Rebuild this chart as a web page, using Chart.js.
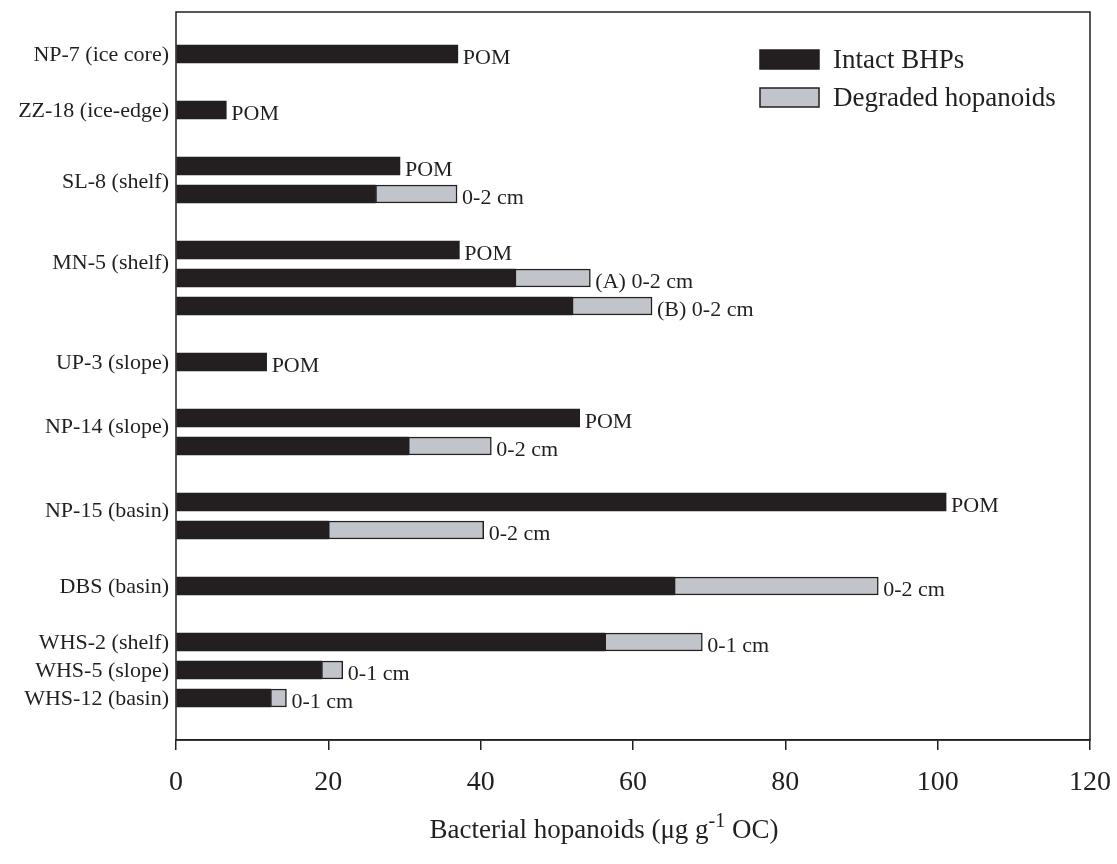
<!DOCTYPE html>
<html>
<head>
<meta charset="utf-8">
<script src="https://cdn.jsdelivr.net/npm/chart.js@4/dist/chart.umd.min.js"></script>
<style>
html,body{margin:0;padding:0;background:#fff;}
#wrap{width:1117px;height:864px;position:relative;}
</style>
</head>
<body>
<div id="wrap"><canvas id="c" width="1117" height="864"></canvas></div>
<script>
// Row slots (top to bottom); empty strings are spacer rows
const rowNotes = ['', 'POM', '', 'POM', '', 'POM', '0-2 cm', '', 'POM', '(A) 0-2 cm', '(B) 0-2 cm', '',
  'POM', '', 'POM', '0-2 cm', '', 'POM', '0-2 cm', '', '0-2 cm', '', '0-1 cm', '0-1 cm', '0-1 cm', ''];
const intactBHPs = [null, 37.0, null, 6.6, null, 29.4, 26.2, null, 37.2, 44.5, 52.0, null,
  11.9, null, 53.0, 30.5, null, 101.1, 20.0, null, 65.4, null, 56.3, 19.1, 12.4, null];
const degradedHopanoids = [null, null, null, null, null, null, 10.7, null, null, 9.9, 10.5, null,
  null, null, null, 10.9, null, null, 20.4, null, 26.8, null, 12.8, 2.8, 2.1, null];
const stationLabels = ['NP-7 (ice core)', 'ZZ-18 (ice-edge)', 'SL-8 (shelf)', 'MN-5 (shelf)', 'UP-3 (slope)',
  'NP-14 (slope)', 'NP-15 (basin)', 'DBS (basin)', 'WHS-2 (shelf)', 'WHS-5 (slope)', 'WHS-12 (basin)'];
const stationLabelRows = [1, 3, 5.55, 8.45, 12, 14.3, 17.3, 20, 22, 23, 24];
const xTicks = [0, 20, 40, 60, 80, 100, 120];
const seriesNames = ['Intact BHPs', 'Degraded hopanoids'];

const FONT = '"Liberation Serif", "Times New Roman", serif';
const INK = '#231f20';
const GREY = '#c1c4ca';
const slotIds = rowNotes.map((n, i) => 'r' + i);

const drawPlugin = {
  id: 'custom',
  afterDatasetsDraw(chart) {
    const ctx = chart.ctx, ca = chart.chartArea;
    const xs = chart.scales.x, ys = chart.scales.y;
    ctx.save();
    // frame
    ctx.strokeStyle = INK; ctx.lineWidth = 1.5;
    ctx.strokeRect(ca.left, ca.top, ca.right - ca.left, ca.bottom - ca.top);
    // station labels
    ctx.fillStyle = INK;
    ctx.font = '22px ' + FONT;
    ctx.textAlign = 'right'; ctx.textBaseline = 'middle';
    stationLabels.forEach((lab, i) => {
      ctx.fillText(lab, ca.left - 7, ys.getPixelForValue(stationLabelRows[i]) + 1);
    });
    // bar notes
    ctx.textAlign = 'left';
    rowNotes.forEach((note, i) => {
      if (!note) return;
      const tot = (intactBHPs[i] || 0) + (degradedHopanoids[i] || 0);
      const x = xs.getPixelForValue(tot) + 5;
      const y = ys.getPixelForValue(i) + 4;
      ctx.fillText(note, x, y);
    });
    // legend
    const lx = 760, lw = 59, lh = 19;
    const items = [[INK, 50], [GREY, 88]];
    ctx.font = '27px ' + FONT;
    items.forEach((it, k) => {
      ctx.fillStyle = it[0];
      ctx.fillRect(lx, it[1], lw, lh);
      ctx.strokeStyle = INK; ctx.lineWidth = 1.5;
      ctx.strokeRect(lx, it[1], lw, lh);
      ctx.fillStyle = INK;
      ctx.fillText(seriesNames[k], 833, it[1] + lh / 2 + 1);
    });
    // x title with superscript
    const p1 = 'Bacterial hopanoids (\u03bcg g', sup = '-1', p2 = ' OC)';
    ctx.font = '27px ' + FONT;
    const w1 = ctx.measureText(p1).width, w3 = ctx.measureText(p2).width;
    ctx.font = '20px ' + FONT;
    const w2 = ctx.measureText(sup).width;
    const total = w1 + w2 + w3;
    let x0 = 604 - total / 2;
    const yb = 838;
    ctx.textBaseline = 'alphabetic';
    ctx.font = '27px ' + FONT; ctx.fillText(p1, x0, yb);
    ctx.font = '20px ' + FONT; ctx.fillText(sup, x0 + w1, yb - 11);
    ctx.font = '27px ' + FONT; ctx.fillText(p2, x0 + w1 + w2, yb);
    ctx.restore();
  }
};

new Chart(document.getElementById('c'), {
  type: 'bar',
  data: {
    labels: slotIds,
    datasets: [
      { label: seriesNames[0], data: intactBHPs, backgroundColor: INK, borderColor: INK, borderWidth: 0, barThickness: 18, borderSkipped: false },
      { label: seriesNames[1], data: degradedHopanoids, backgroundColor: GREY, borderColor: INK, borderWidth: 1.5, barThickness: 18, borderSkipped: false }
    ]
  },
  options: {
    indexAxis: 'y',
    responsive: false,
    animation: false,
    devicePixelRatio: 1,
    layout: { padding: { top: 12, right: 27, left: 0, bottom: 0 } },
    plugins: { legend: { display: false }, tooltip: { enabled: false } },
    scales: {
      x: {
        stacked: true, type: 'linear', min: 0, max: 120,
        afterBuildTicks: s => { s.ticks = xTicks.map(v => ({ value: v })); },
        afterFit: s => { s.height = 124; s.paddingLeft = 0; s.paddingRight = 0; },
        grid: { drawOnChartArea: false, drawTicks: true, tickLength: 10, color: INK, lineWidth: 1.5 },
        border: { display: true, color: INK, width: 1.5 },
        ticks: { color: INK, font: { family: FONT, size: 28 }, padding: 16, maxRotation: 0 }
      },
      y: {
        stacked: true,
        afterFit: s => { s.width = 176; s.paddingTop = 0; s.paddingBottom = 0; },
        grid: { display: false },
        border: { display: false },
        ticks: { display: false }
      }
    }
  },
  plugins: [drawPlugin]
});
</script>
</body>
</html>
